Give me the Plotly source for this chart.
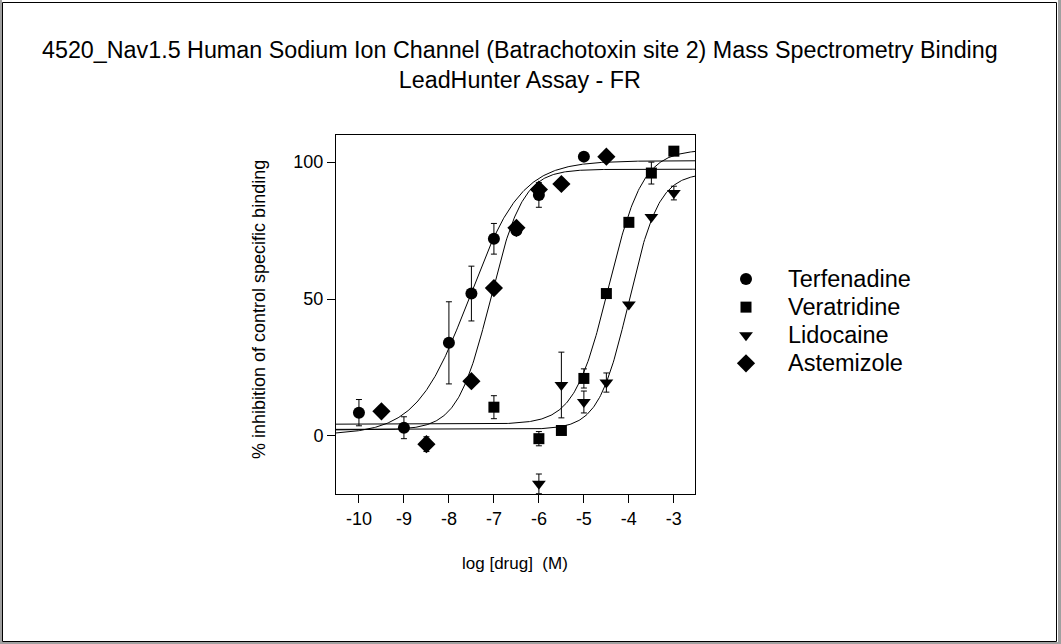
import numpy as np
import plotly.graph_objects as go

# ---- data ----
terf_x = [-10, -9, -8, -7.5, -7, -6.5, -6, -5]
terf_y = [8.5, 3, 34, 52, 72, 75, 88, 102]
terf_e = [4.8, 4, 15, 10, 5.6, 0, 4.5, 0]

vera_x = [-7, -6, -5.5, -5, -4.5, -4, -3.5, -3]
vera_y = [10.5, -1, 2, 21, 52, 78, 96, 104]
vera_e = [4.2, 2.6, 0, 3.5, 0, 0, 4, 0]

lido_x = [-6, -5.5, -5, -4.5, -4, -3.5, -3]
lido_y = [-17.5, 18.6, 12.4, 19.5, 48, 80, 88.7]
lido_e = [3.6, 12, 4, 3.5, 0, 0, 2.5]

aste_x = [-9.5, -8.5, -7.5, -7, -6.5, -6, -5.5, -4.5]
aste_y = [9, -3, 20, 54, 76, 90, 92, 102]
aste_e = [0, 2.7, 0, 0, 0, 0, 0, 0]

# 4-parameter logistic fit parameters: bottom, top, logIC50, Hill slope
terf_fit = [0.5, 100.5, -7.55, 0.75]
vera_fit = [4.3, 104.5, -4.45, 1.15]
lido_fit = [2.4, 96.0, -4.0, 1.3]
aste_fit = [2.2, 97.4, -7.08, 1.2]

names = ["Terfenadine", "Veratridine", "Lidocaine", "Astemizole"]
symbols = ["circle", "square", "triangle-down", "diamond"]
sizes = [12, 11, 12, 14]

x_range = [-10.51, -2.53]
y_range = [-21.2, 109.9]
x_ticks = [-10, -9, -8, -7, -6, -5, -4, -3]
y_ticks = [0, 50, 100]

FONT = "Arial, 'Liberation Sans', sans-serif"


def logistic(p, x):
    b, t, ic, h = p
    return b + (t - b) / (1 + 10 ** ((ic - x) * h))


fig = go.Figure()
xs = np.linspace(x_range[0], x_range[1], 400)
for p in [terf_fit, vera_fit, lido_fit, aste_fit]:
    fig.add_trace(go.Scatter(x=xs, y=logistic(p, xs), mode="lines",
                             line=dict(color="black", width=1),
                             showlegend=False, hoverinfo="skip"))

series = [(terf_x, terf_y, terf_e), (vera_x, vera_y, vera_e),
          (lido_x, lido_y, lido_e), (aste_x, aste_y, aste_e)]
for (sx, sy, se), nm, sym, sz in zip(series, names, symbols, sizes):
    fig.add_trace(go.Scatter(
        x=sx, y=sy, mode="markers",
        name="<span style='font-size:23.5px'>" + nm + "</span>",
        marker=dict(symbol=sym, size=sz, color="black"),
        error_y=dict(type="data", array=se, visible=True, color="black",
                     thickness=1, width=3),
    ))

L, R, T, B = 336, 695, 135, 494
W, H = 1061, 644
pw, ph = R - L, B - T


def px(x):
    return (x - L) / pw


def py(y):
    return (B - y) / ph


shapes = [
    # outer frame
    dict(type="rect", xref="paper", yref="paper", x0=px(0), x1=px(2), y0=py(H), y1=py(0),
         fillcolor="#a0a0a0", line=dict(width=0), layer="below"),
    dict(type="rect", xref="paper", yref="paper", x0=px(1058), x1=px(W), y0=py(H), y1=py(0),
         fillcolor="#a0a0a0", line=dict(width=0), layer="below"),
    dict(type="rect", xref="paper", yref="paper", x0=px(0), x1=px(W), y0=py(H), y1=py(642),
         fillcolor="#a0a0a0", line=dict(width=0), layer="below"),
    dict(type="rect", xref="paper", yref="paper", x0=px(2.5), x1=px(1056.5), y0=py(641.5), y1=py(2.5),
         fillcolor="rgba(0,0,0,0)", line=dict(color="black", width=1), layer="below"),
]

annotations = [
    dict(text="4520_Nav1.5 Human Sodium Ion Channel (Batrachotoxin site 2) Mass Spectrometry Binding"
              "<br>LeadHunter Assay - FR",
         xref="paper", yref="paper", x=px(520), y=py(65), xanchor="center", yanchor="middle",
         showarrow=False, font=dict(family=FONT, size=23.3, color="black")),
    dict(text="log [drug]  (M)", xref="paper", yref="paper", x=px(515), y=py(563),
         xanchor="center", yanchor="middle", showarrow=False,
         font=dict(family=FONT, size=17, color="black")),
    dict(text="% inhibition of control specific binding", xref="paper", yref="paper",
         x=px(259), y=py(310), xanchor="center", yanchor="middle", textangle=-90,
         showarrow=False, font=dict(family=FONT, size=18, color="black")),
]

fig.update_layout(
    width=W, height=H,
    margin=dict(l=L, r=W - R, t=T, b=H - B, pad=0),
    paper_bgcolor="white", plot_bgcolor="white",
    shapes=shapes, annotations=annotations,
    showlegend=True,
    legend=dict(x=px(704), y=py(260), xanchor="left", yanchor="top",
                font=dict(family=FONT, size=19.3, color="black"),
                itemwidth=74, bgcolor="rgba(0,0,0,0)", borderwidth=0),
    xaxis=dict(range=x_range, tickvals=x_ticks, ticktext=[str(v) for v in x_ticks],
               showgrid=False, zeroline=False, showline=True, linecolor="black", linewidth=1,
               mirror=True, ticks="outside", ticklen=8, tickcolor="black",
               tickfont=dict(family=FONT, size=18, color="black")),
    yaxis=dict(range=y_range, tickvals=y_ticks, ticktext=[str(v) for v in y_ticks],
               showgrid=False, zeroline=False, showline=True, linecolor="black", linewidth=1,
               mirror=True, ticks="outside", ticklen=8, tickcolor="black",
               tickfont=dict(family=FONT, size=18, color="black")),
)

fig.write_html("out.html")
